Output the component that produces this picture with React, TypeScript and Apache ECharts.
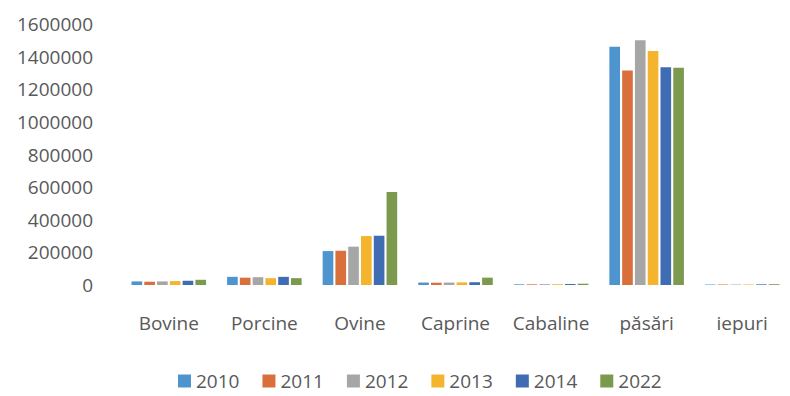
import React, { useEffect, useRef } from "react";
import * as echarts from "echarts";

const categories = ["Bovine", "Porcine", "Ovine", "Caprine", "Cabaline", "păsări", "iepuri"];
const years = ["2010", "2011", "2012", "2013", "2014", "2022"];
const v2010 = [22000, 50000, 208000, 15000, 4000, 1460000, 3000];
const v2011 = [20000, 45000, 210000, 14000, 4000, 1315000, 3000];
const v2012 = [22000, 48000, 235000, 15000, 5000, 1500000, 3000];
const v2013 = [24000, 42000, 300000, 16000, 5000, 1435000, 3000];
const v2014 = [26000, 50000, 302000, 17000, 6000, 1335000, 4000];
const v2022 = [32000, 42000, 570000, 45000, 8000, 1332000, 5000];
const seriesValues = [v2010, v2011, v2012, v2013, v2014, v2022];
const colors = ["#4E94CE", "#D9703C", "#A6A6A6", "#F4B42E", "#3F6CB3", "#7C9A4E"];

export default function App() {
  const ref = useRef<HTMLDivElement>(null);
  useEffect(() => {
    if (!ref.current) return;
    const chart = echarts.init(ref.current, undefined, { renderer: "svg" });
    const font = "'Open Sans', sans-serif";
    chart.setOption({
      animation: false,
      backgroundColor: "#ffffff",
      color: colors,
      textStyle: { fontFamily: font },
      grid: { left: 121, top: 24, height: 261, width: 690, containLabel: false },
      legend: {
        left: 173,
        top: 366,
        itemWidth: 13,
        itemHeight: 13,
        itemGap: 23,
        icon: "rect",
        textStyle: { color: "#595959", fontSize: 19, fontFamily: font, lineHeight: 20 },
        data: years,
      },
      xAxis: {
        type: "category",
        data: categories,
        axisLine: { show: false },
        axisTick: { show: false },
        axisLabel: {
          color: "#595959",
          fontSize: 19,
          fontFamily: font,
          margin: 28,
          interval: 0,
          hideOverlap: false,
        },
      },
      yAxis: {
        type: "value",
        min: 0,
        max: 1600000,
        interval: 200000,
        splitLine: { show: false },
        axisLine: { show: false },
        axisTick: { show: false },
        axisLabel: {
          color: "#595959",
          fontSize: 19,
          fontFamily: font,
          margin: 28,
          formatter: (v: number) => String(v),
        },
      },
      series: years.map((y, i) => ({
        name: y,
        type: "bar",
        data: seriesValues[i],
        barCategoryGap: "22%",
        barGap: "20%",
      })),
    });
    return () => chart.dispose();
  }, []);
  return (
    <div
      ref={ref}
      style={{ position: "absolute", left: 0, top: 0, width: 790, height: 396 }}
    />
  );
}
